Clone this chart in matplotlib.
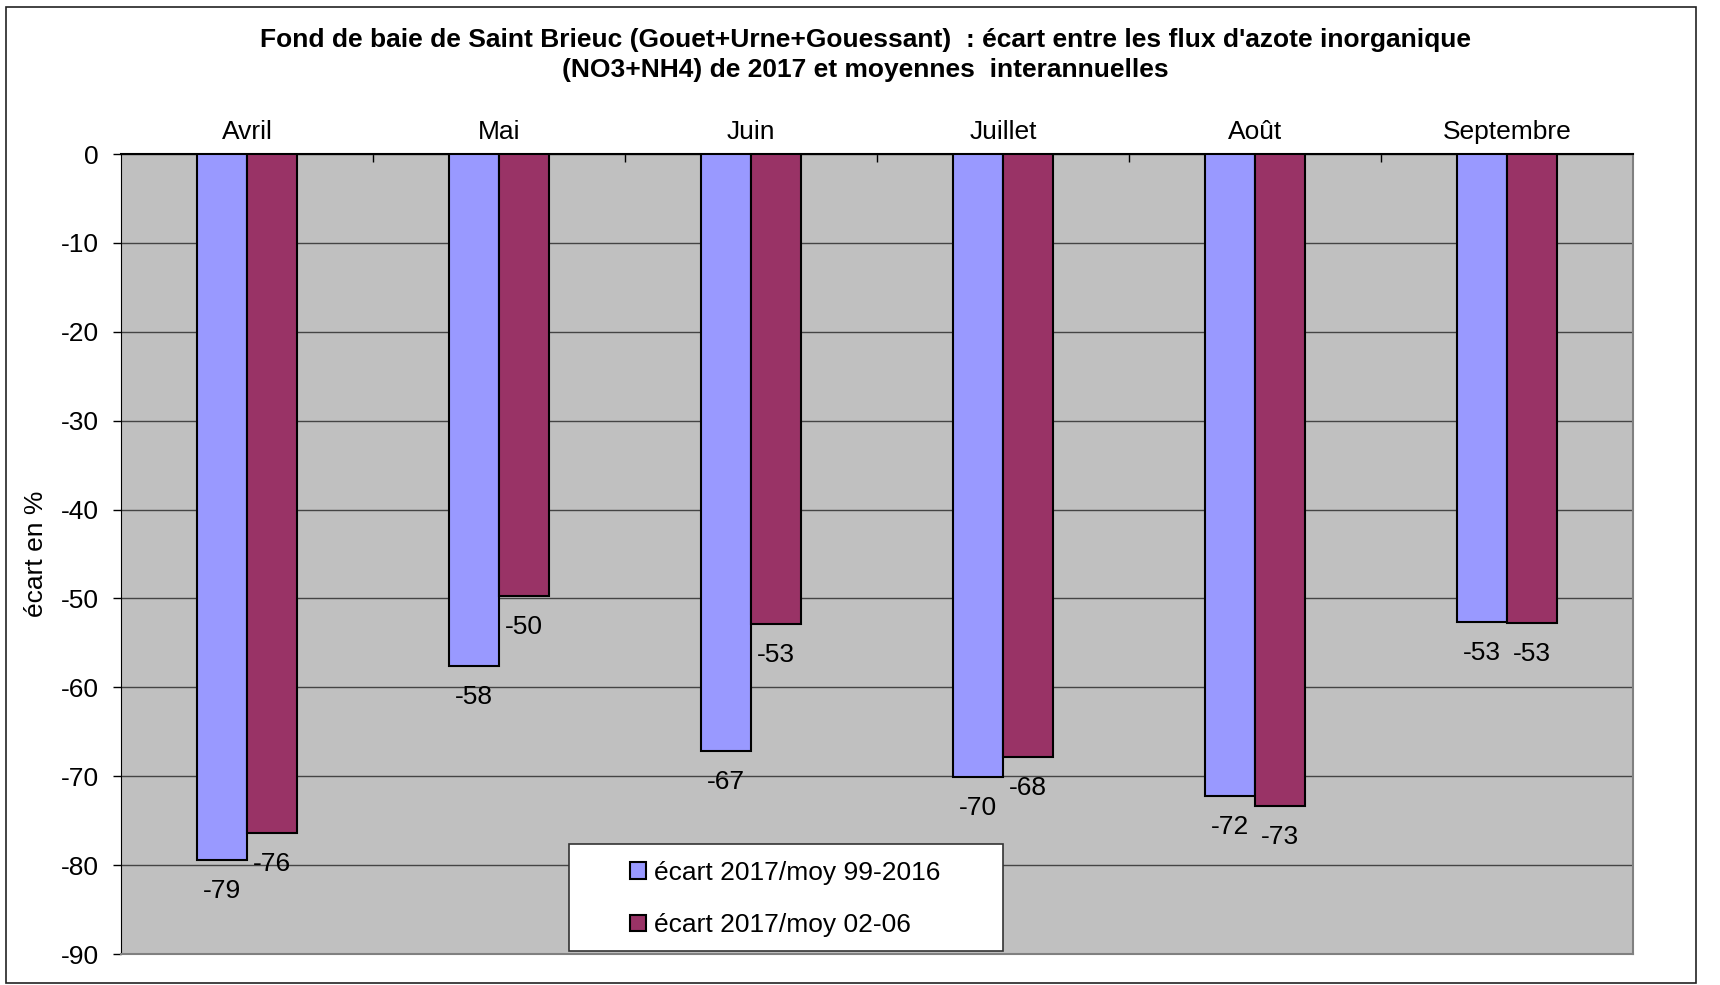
import numpy as np
import matplotlib.pyplot as plt
from matplotlib.patches import Patch, Rectangle

plt.rcParams['font.family'] = ['Liberation Sans', 'DejaVu Sans']
plt.rcParams['axes.unicode_minus'] = False

# monthly deviation (%) of 2017 inorganic nitrogen fluxes
mois = ['Avril', 'Mai', 'Juin', 'Juillet', 'Août', 'Septembre']
ecart_99_2016 = [-79.4, -57.6, -67.2, -70.1, -72.2, -52.7]
ecart_02_06 = [-76.4, -49.7, -52.9, -67.8, -73.3, -52.8]
serie_noms = ['écart 2017/moy 99-2016', 'écart 2017/moy 02-06']
couleurs = ['#9999FF', '#993366']

FS = 19
W, H = 1720, 985
fig = plt.figure(figsize=(W / 100, H / 100), dpi=100)
fig.patch.set_facecolor('white')

# outer chart frame
fig.patches.append(Rectangle((6 / W, 1 - 983 / H), 1690 / W, 976 / H,
                             transform=fig.transFigure, fill=False,
                             edgecolor='#222222', linewidth=1.2))

ax = fig.add_axes([121 / W, 1 - 954 / H, 1512 / W, 800 / H])
ax.set_facecolor('#C0C0C0')

x = np.arange(len(mois))
bw = 0.2
b1 = ax.bar(x - bw / 2, ecart_99_2016, bw, color=couleurs[0],
            edgecolor='black', linewidth=1.5, zorder=3)
b2 = ax.bar(x + bw / 2, ecart_02_06, bw, color=couleurs[1],
            edgecolor='black', linewidth=1.5, zorder=3)

# value labels below each bar end
for bars, vals in ((b1, ecart_99_2016), (b2, ecart_02_06)):
    for rect, v in zip(bars, vals):
        ax.annotate('%.0f' % v, (rect.get_x() + rect.get_width() / 2, v),
                    xytext=(0, -31), textcoords='offset pixels',
                    ha='center', va='center', fontsize=FS, zorder=4)

ax.set_xlim(-0.5, len(mois) - 0.5)
ax.set_ylim(-90, 0)
ax.set_yticks(np.arange(-90, 1, 10))
ax.tick_params(axis='y', direction='out', length=6, width=1,
               labelsize=FS, pad=10)

# category axis sits at zero, i.e. along the top edge
ax.xaxis.tick_top()
ax.set_xticks(x)
ax.set_xticklabels(mois)
ax.set_xticks(x[:-1] + 0.5, minor=True)
ax.tick_params(axis='x', which='major', length=0, labelsize=FS, pad=7)
ax.tick_params(axis='x', which='minor', direction='in', length=6, width=1)

ax.grid(axis='y', color='#444444', linewidth=1, zorder=1)
ax.set_axisbelow(True)

ax.spines['left'].set_color('black')
ax.spines['top'].set_color('black')
ax.spines['top'].set_linewidth(1.5)
for s in ('right', 'bottom'):
    ax.spines[s].set_color('#808080')
    ax.spines[s].set_linewidth(1.5)

ax.set_ylabel('écart en %', fontsize=FS, labelpad=9)

fig.text(0.503, 1 - 40 / H,
         "Fond de baie de Saint Brieuc (Gouet+Urne+Gouessant)  : écart entre les flux d'azote inorganique",
         ha='center', va='center', fontsize=19, fontweight='bold')
fig.text(0.503, 1 - 70 / H, '(NO3+NH4) de 2017 et moyennes  interannuelles',
         ha='center', va='center', fontsize=19, fontweight='bold')

# legend box drawn separately so its padding can be wider than tall
ax.add_patch(Rectangle((569 / W, 1 - 951 / H), 434 / W, 107 / H,
                       transform=fig.transFigure, facecolor='white',
                       edgecolor='#333333', linewidth=1.2, clip_on=False,
                       zorder=5))
handles = [Patch(facecolor=c, edgecolor='black', linewidth=1.5) for c in couleurs]
leg = ax.legend(handles, serie_noms, loc='center', frameon=False,
                bbox_to_anchor=(785 / W, 1 - 899 / H),
                bbox_transform=fig.transFigure, fontsize=FS,
                handlelength=0.6, handleheight=0.6, handletextpad=0.3,
                labelspacing=1.08, borderpad=0)
leg.set_zorder(6)

fig.savefig('out.png', dpi=100)
